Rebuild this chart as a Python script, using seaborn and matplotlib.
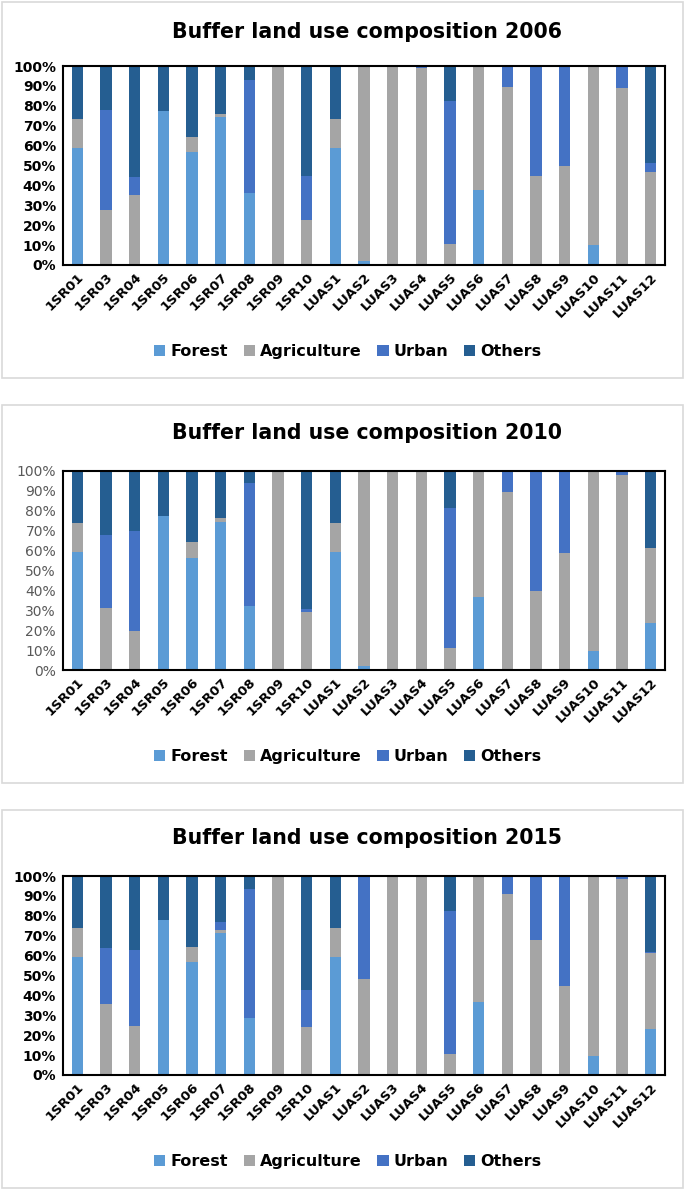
import pandas as pd
import matplotlib.pyplot as plt
import seaborn as sns
from matplotlib.patches import Patch, Rectangle
from matplotlib.ticker import PercentFormatter

# sites along the x axis
sites = ['1SR01', '1SR03', '1SR04', '1SR05', '1SR06', '1SR07', '1SR08', '1SR09', '1SR10',
         'LUAS1', 'LUAS2', 'LUAS3', 'LUAS4', 'LUAS5', 'LUAS6', 'LUAS7', 'LUAS8', 'LUAS9',
         'LUAS10', 'LUAS11', 'LUAS12']
classes = ['Forest', 'Agriculture', 'Urban', 'Others']
years = ['2006', '2010', '2015']

# share of each land use class in the buffer (%)
forest_2006 = [58.7, 0, 0, 77.6, 57.0, 74.3, 36.1, 0, 0, 58.7, 2.0, 0.7, 0.7, 0, 37.5, 0, 0, 0, 9.9, 0, 0]
agri_2006 = [14.6, 27.4, 35.3, 0, 7.2, 1.8, 0, 100, 22.5, 14.6, 98.0, 99.3, 98.3, 10.6, 62.0, 89.4, 44.9, 49.9, 90.1, 88.9, 46.6]
urban_2006 = [0, 50.6, 9.1, 0, 0, 0, 57.0, 0, 22.0, 0, 0, 0, 1.0, 71.8, 0.5, 10.6, 55.1, 50.1, 0, 11.1, 4.7]
others_2006 = [26.7, 22.0, 55.6, 22.4, 35.8, 23.9, 6.9, 0, 55.5, 26.7, 0, 0, 0, 17.6, 0, 0, 0, 0, 0, 0, 48.7]

forest_2010 = [59.1, 0, 0, 77.6, 56.4, 74.2, 32.0, 0, 0, 59.1, 1.8, 0, 0, 0, 36.7, 0, 0, 0, 9.5, 0, 23.5]
agri_2010 = [14.6, 31.2, 19.4, 0, 7.8, 2.0, 0, 100, 29.0, 14.6, 98.2, 100, 99.3, 11.1, 63.3, 89.3, 39.9, 58.8, 90.5, 97.8, 38.0]
urban_2010 = [0, 36.6, 50.3, 0, 0, 0, 61.8, 0, 1.5, 0, 0, 0, 0.7, 70.5, 0, 10.7, 60.1, 41.2, 0, 2.2, 0]
others_2010 = [26.3, 32.2, 30.3, 22.4, 35.8, 23.8, 6.2, 0, 69.5, 26.3, 0, 0, 0, 18.4, 0, 0, 0, 0, 0, 0, 38.5]

forest_2015 = [59.5, 0, 0, 77.8, 56.6, 71.4, 28.7, 0, 0, 59.5, 0, 0, 0, 0, 36.8, 0, 0, 0, 9.6, 0, 23.2]
agri_2015 = [14.6, 35.8, 24.4, 0, 7.6, 1.7, 0, 100, 24.0, 14.6, 48.2, 100, 100, 10.4, 63.2, 91.1, 67.9, 44.5, 90.4, 98.7, 38.3]
urban_2015 = [0, 27.9, 38.3, 0, 0, 4.0, 64.7, 0, 18.9, 0, 51.8, 0, 0, 72.0, 0, 8.9, 32.1, 55.5, 0, 1.3, 0.3]
others_2015 = [25.9, 36.3, 37.3, 22.2, 35.8, 22.9, 6.6, 0, 57.1, 25.9, 0, 0, 0, 17.6, 0, 0, 0, 0, 0, 0, 38.2]

colors = {'Forest': '#5B9BD5', 'Agriculture': '#A5A5A5', 'Urban': '#4472C4', 'Others': '#255E91'}

data = {
    '2006': [forest_2006, agri_2006, urban_2006, others_2006],
    '2010': [forest_2010, agri_2010, urban_2010, others_2010],
    '2015': [forest_2015, agri_2015, urban_2015, others_2015],
}

sns.set_theme(style='white')
plt.rcParams['font.family'] = ['DejaVu Sans']
plt.rcParams['text.color'] = 'black'

W, H = 685, 1191
fig = plt.figure(figsize=(W / 100, H / 100), dpi=100)

# pixel layout of the three panels: (axes top, axes bottom, title y, box top, box bottom)
panels = [(66, 265, 32, 2, 378), (471, 670, 433, 405, 783), (876, 1075, 838, 810, 1188)]
ax_left, ax_right = 63, 665

for i, year in enumerate(years):
    top, bottom, ty, btop, bbot = panels[i]
    fig.patches.append(Rectangle((2 / W, 1 - bbot / H), 681 / W, (bbot - btop) / H,
                                 transform=fig.transFigure, fill=False,
                                 edgecolor='#D9D9D9', linewidth=1.2))
    ax = fig.add_axes([ax_left / W, 1 - bottom / H, (ax_right - ax_left) / W, (bottom - top) / H])

    df = pd.DataFrame(dict(zip(classes, data[year])), index=sites)
    cum = df.cumsum(axis=1)
    # draw from the top of the stack downwards so lower segments sit in front
    for cls in classes[::-1]:
        sns.barplot(x=sites, y=cum[cls].values, color=colors[cls], width=0.4,
                    linewidth=0, saturation=1, ax=ax)

    ax.set_ylim(0, 100)
    ax.set_yticks(range(0, 101, 10))
    ax.yaxis.set_major_formatter(PercentFormatter(decimals=0))
    ax.tick_params(length=0)
    ax.tick_params(axis='y', pad=5)
    ax.tick_params(axis='x', pad=4)
    if year == '2010':
        for lab in ax.get_yticklabels():
            lab.set_fontsize(10)
            lab.set_color('#595959')
    else:
        for lab in ax.get_yticklabels():
            lab.set_fontsize(10)
            lab.set_fontweight('bold')
            lab.set_color('black')
    for lab in ax.get_xticklabels():
        lab.set_rotation(45)
        lab.set_ha('right')
        lab.set_va('top')
        lab.set_rotation_mode('anchor')
        lab.set_fontsize(9.5)
        lab.set_fontweight('bold')
        lab.set_color('black')
    for sp in ax.spines.values():
        sp.set_visible(True)
        sp.set_color('black')
        sp.set_linewidth(1.5)

    fig.text(367 / W, 1 - ty / H, f'Buffer land use composition {year}',
             ha='center', va='center', fontsize=14.8, fontweight='bold', color='black')

    handles = [Patch(facecolor=colors[c], edgecolor='none', label=c) for c in classes]
    leg = ax.legend(handles=handles, loc='center', bbox_to_anchor=(0.473, -0.435), ncol=4,
                    frameon=False, handlelength=0.7, handleheight=0.7, handletextpad=0.3,
                    columnspacing=1.0, prop={'size': 11.5, 'weight': 'bold'})
    for t in leg.get_texts():
        t.set_color('black')

fig.savefig('out.png', dpi=100)
